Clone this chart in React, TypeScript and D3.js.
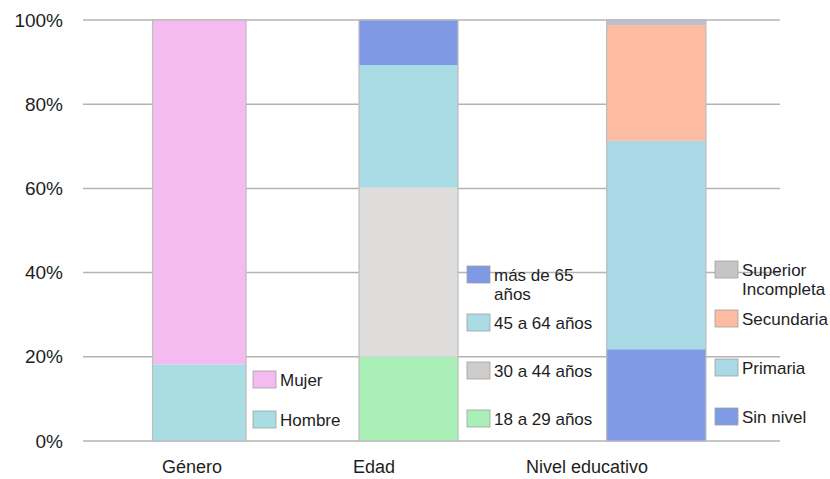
import React from "react";
import * as d3 from "d3";

// ---- data ----
const categories = ["Género", "Edad", "Nivel educativo"];
const generoSeries = ["Hombre", "Mujer"];
const generoValues = [18.2, 81.8];
const edadSeries = ["18 a 29 años", "30 a 44 años", "45 a 64 años", "más de 65 años"];
const edadValues = [20.0, 40.2, 29.1, 10.7];
const nivelSeries = ["Sin nivel", "Primaria", "Secundaria", "Superior Incompleta"];
const nivelValues = [21.8, 49.5, 27.5, 1.2];
const yTicks = [0, 20, 40, 60, 80, 100];

// ---- styles / layout ----
const W = 830, H = 479;
const FONT = "'Liberation Sans', Arial, sans-serif";
const colors: Record<string, string> = {
  Hombre: "#a9dce3", Mujer: "#f3bbf0",
  "18 a 29 años": "#aaf0b6", "30 a 44 años": "#dfdcdc", "45 a 64 años": "#a9dce4", "más de 65 años": "#7f99e4",
  "Sin nivel": "#7f9be5", Primaria: "#a9d9e4", Secundaria: "#fdbba1", "Superior Incompleta": "#bfbfcf",
};
const legendSwatch: Record<string, string> = { "Superior Incompleta": "#c3c6c2", "30 a 44 años": "#cfcccc" };

const groups = [
  { cat: categories[0], series: generoSeries, values: generoValues, legendX: 253, legendBottom: 411, step: 40, maxW: 90 },
  { cat: categories[1], series: edadSeries, values: edadValues, legendX: 467, legendBottom: 410, step: 48, maxW: 110 },
  { cat: categories[2], series: nivelSeries, values: nivelValues, legendX: 715, legendBottom: 408, step: 49, maxW: 89 },
];

const y = d3.scaleLinear().domain([0, 100]).range([441, 20]);
const xBar = d3.scaleOrdinal<string, number>().domain(categories).range([199.3, 408.5, 656.3]);
const xLabel = d3.scaleOrdinal<string, number>().domain(categories).range([192, 374, 587]);
const barW = d3.scaleOrdinal<string, number>().domain(categories).range([93.5, 99, 99.3]);
const plotX0 = 83, plotX1 = 780;

let ctx: CanvasRenderingContext2D | null = null;
function measure(t: string) {
  if (!ctx) ctx = document.createElement("canvas").getContext("2d");
  if (!ctx) return t.length * 9;
  ctx.font = `17px ${FONT}`;
  return ctx.measureText(t).width;
}
function wrap(t: string, maxW: number) {
  const words = t.split(" ");
  const lines: string[] = [];
  let cur = "";
  for (const w of words) {
    const test = cur ? cur + " " + w : w;
    if (cur && measure(test) > maxW) { lines.push(cur); cur = w; } else cur = test;
  }
  if (cur) lines.push(cur);
  return lines;
}

export default function App() {
  const stack = (vals: number[]) => {
    const cum = d3.cumsum(vals);
    return vals.map((v, i) => ({ y0: cum[i] - v, y1: cum[i] }));
  };
  return (
    <div style={{ position: "absolute", left: 0, top: 0 }}>
      <svg width={W} height={H} style={{ display: "block", background: "#fff" }}>
        {yTicks.map((t) => (
          <g key={t}>
            <line x1={plotX0} x2={plotX1} y1={y(t)} y2={y(t)} stroke="#b3b3b3" strokeWidth={1.5} />
            <text x={63} y={y(t)} dy="0.35em" textAnchor="end" fontFamily={FONT} fontSize={19} fill="#1e1e1e">{t}%</text>
          </g>
        ))}
        {groups.map((g) => {
          const cx = xBar(g.cat), bw = barW(g.cat);
          const segs = stack(g.values);
          return (
            <g key={g.cat}>
              {segs.map((s, i) => (
                <rect key={i} x={cx - bw / 2} width={bw} y={y(s.y1)} height={y(s.y0) - y(s.y1)}
                  fill={colors[g.series[i]]} />
              ))}
              <rect x={cx - bw / 2} width={bw} y={y(100)} height={y(0) - y(100)} fill="none" stroke="#bdbdbd" strokeWidth={1.2} />
              <text x={xLabel(g.cat)} y={472.5} textAnchor="middle" fontFamily={FONT} fontSize={18} fill="#1e1e1e">{g.cat}</text>
              {g.series.map((name, i) => {
                const top = g.legendBottom - i * g.step;
                const lines = wrap(name, g.maxW);
                return (
                  <g key={name}>
                    <rect x={g.legendX} y={top} width={23} height={17} fill={legendSwatch[name] || colors[name]} stroke="#a0a0a0" strokeWidth={0.8} />
                    <text x={g.legendX + 27} y={top + 14.5} fontFamily={FONT} fontSize={17} fill="#1e1e1e">
                      {lines.map((l, k) => (
                        <tspan key={k} x={g.legendX + 27} dy={k === 0 ? 0 : 19.5}>{l}</tspan>
                      ))}
                    </text>
                  </g>
                );
              })}
            </g>
          );
        })}
      </svg>
    </div>
  );
}
